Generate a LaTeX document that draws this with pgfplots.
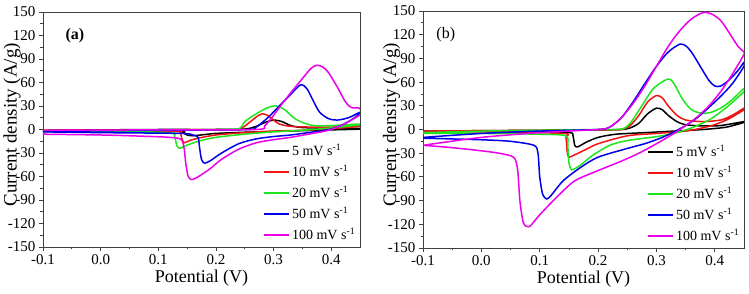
\documentclass[border=0pt]{standalone}
\usepackage{fontspec}
\setmainfont{Liberation Serif}
\usepackage{pgfplots}
\pgfplotsset{compat=1.18}
\definecolor{cR}{RGB}{240,20,20}
\definecolor{cG}{RGB}{30,230,30}
\definecolor{cB}{RGB}{0,0,235}
\definecolor{cM}{RGB}{235,0,235}
\pgfplotsset{
  cvaxis/.style={
    scale only axis,
    width=317pt, height=235pt,
    xmin=-0.1, xmax=0.45, ymin=-150, ymax=150,
    xtick={-0.1,0,0.1,0.2,0.3,0.4},
    ytick={-150,-120,-90,-60,-30,0,30,60,90,120,150},
    minor x tick num=1, minor y tick num=1,
    tick align=outside, tick pos=left,
    major tick length=4pt, minor tick length=2.5pt,
    axis line style={line width=0.8pt, black!75},
    every tick/.style={black!75, line width=0.8pt},
    /pgf/number format/assume math mode=true,
    xticklabel style={/pgf/number format/fixed,/pgf/number format/precision=1,/pgf/number format/fixed zerofill},
    yticklabel style={/pgf/number format/fixed},
    ticklabel style={font=\fontsize{15}{17}\selectfont},
    xlabel={Potential (V)},
    ylabel={Current density (A/g)},
    xlabel style={at={(axis description cs:0.5,-0.132)}, anchor=center, font=\fontsize{18}{20}\selectfont},
    ylabel style={at={(axis description cs:-0.0978,0.52)}, anchor=center, font=\fontsize{19}{21}\selectfont},
    legend style={at={(0.995,0.01)}, anchor=south east, draw=none, fill=none,
      font=\fontsize{14}{16}\selectfont, row sep=3.8pt, inner sep=1pt},
    legend cell align=left,
    legend image code/.code={\draw[#1,line width=1.8pt] (0pt,0pt) -- (25pt,0pt);},
    every axis plot/.append style={line width=1.5pt, smooth, tension=0.45},
  }
}
\begin{document}
\begin{tikzpicture}
\useasboundingbox (-43pt,-47pt) rectangle (706pt,247pt);
\begin{axis}[cvaxis, at={(0pt,0pt)}, anchor=south west]
\addplot[black] coordinates {(-0.1,-1) (0.0,-0.5) (0.1,0) (0.2,0) (0.25,0.5) (0.27,4) (0.285,9) (0.30,12) (0.315,10) (0.33,5) (0.35,2.5) (0.4,1.5) (0.45,1.5)
 (0.45,0.5) (0.4,-0.5) (0.35,-1.5) (0.3,-2.5) (0.25,-3.5) (0.2,-5) (0.18,-6.5) (0.16,-8) (0.15,-7) (0.143,-4) (0.135,-2.5) (0.0,-2) (-0.1,-2)};
\addlegendentry{5 mV s\textsuperscript{-1}}
\addplot[cR] coordinates {(-0.1,-1) (0.1,-0.5) (0.2,0) (0.24,0.5) (0.26,10) (0.27,16) (0.28,20) (0.29,18) (0.30,12) (0.31,7) (0.33,4) (0.37,3) (0.4,3) (0.45,5)
 (0.45,4) (0.4,1) (0.35,-1) (0.3,-2) (0.25,-4) (0.2,-7) (0.17,-11) (0.155,-14) (0.145,-17) (0.141,-12) (0.138,-4) (0.13,-2.5) (0.0,-2) (-0.1,-2)};
\addlegendentry{10 mV s\textsuperscript{-1}}
\addplot[cG] coordinates {(-0.1,-2) (0.1,-1) (0.2,0) (0.24,1) (0.25,10) (0.27,20) (0.29,28) (0.305,30) (0.32,25) (0.335,15) (0.35,9) (0.37,5) (0.4,5) (0.45,7)
 (0.45,6) (0.4,2) (0.35,-1) (0.3,-3) (0.25,-6) (0.2,-10) (0.17,-15) (0.15,-20) (0.137,-24) (0.132,-20) (0.128,-8) (0.12,-4) (0.0,-3) (-0.1,-3)};
\addlegendentry{20 mV s\textsuperscript{-1}}
\addplot[cB] coordinates {(-0.1,-2) (0.1,-1) (0.2,-0.5) (0.26,0) (0.27,3) (0.29,15) (0.31,30) (0.33,45) (0.347,57) (0.358,52) (0.37,35) (0.38,22) (0.395,14) (0.41,12) (0.43,15) (0.45,22)
 (0.45,20) (0.43,10) (0.41,3) (0.39,-1) (0.36,-4) (0.33,-7) (0.3,-9) (0.27,-12) (0.24,-18) (0.21,-30) (0.19,-40) (0.18,-43) (0.175,-38) (0.172,-25) (0.169,-10) (0.16,-7) (0.14,-5) (0.0,-4) (-0.1,-3)};
\addlegendentry{50 mV s\textsuperscript{-1}}
\addplot[cM] coordinates {(-0.1,-1) (0.1,-0.5) (0.27,0) (0.285,5) (0.30,18) (0.315,33) (0.33,47) (0.35,65) (0.365,78) (0.375,82) (0.385,80) (0.395,73) (0.41,55) (0.425,35) (0.435,28) (0.45,27)
 (0.45,19) (0.43,10) (0.41,3) (0.39,-2) (0.36,-6) (0.33,-10) (0.30,-13) (0.27,-17) (0.24,-25) (0.21,-38) (0.19,-50) (0.17,-60) (0.158,-64) (0.152,-60) (0.148,-45) (0.145,-25) (0.14,-13) (0.12,-10) (0.05,-8) (0.0,-7) (-0.1,-6)};
\addlegendentry{100 mV s\textsuperscript{-1}}
\node[anchor=west, font=\fontsize{16}{18}\selectfont\bfseries] at (axis description cs:0.06,0.898) {(a)};
\end{axis}
\begin{axis}[cvaxis, at={(380pt,-1pt)}, anchor=south west, width=321pt, height=237pt]
\addplot[black] coordinates {(-0.1,-2) (0.1,-1) (0.2,-0.5) (0.24,0) (0.255,2) (0.27,8) (0.285,20) (0.30,27) (0.31,25) (0.32,18) (0.335,10) (0.35,6) (0.38,4.5) (0.41,5) (0.45,10)
 (0.45,9) (0.42,3) (0.38,0) (0.33,-2) (0.28,-4) (0.23,-6) (0.2,-10) (0.18,-16) (0.165,-22) (0.16,-20) (0.157,-8) (0.152,-4) (0.1,-3) (-0.1,-2)};
\addlegendentry{5 mV s\textsuperscript{-1}}
\addplot[cR] coordinates {(-0.1,-2) (0.1,-1) (0.2,-0.5) (0.24,0) (0.255,5) (0.27,18) (0.285,35) (0.30,43) (0.31,40) (0.32,30) (0.335,18) (0.35,12) (0.38,10) (0.41,12) (0.43,18) (0.45,27)
 (0.45,25) (0.42,12) (0.39,4) (0.35,-2) (0.3,-5) (0.25,-8) (0.2,-18) (0.18,-25) (0.16,-32) (0.15,-35) (0.147,-28) (0.145,-10) (0.14,-5) (0.0,-3) (-0.1,-2)};
\addlegendentry{10 mV s\textsuperscript{-1}}
\addplot[cG] coordinates {(-0.1,-4) (0.0,-2) (0.1,-1) (0.2,0) (0.24,0.5) (0.255,8) (0.275,30) (0.295,52) (0.32,64) (0.33,58) (0.345,38) (0.36,25) (0.375,21) (0.39,21) (0.41,27) (0.43,38) (0.45,52)
 (0.45,48) (0.42,28) (0.39,12) (0.36,2) (0.33,-5) (0.3,-9) (0.25,-14) (0.22,-20) (0.19,-33) (0.17,-45) (0.155,-51) (0.15,-42) (0.148,-20) (0.145,-8) (0.1,-6) (0.0,-5) (-0.1,-5)};
\addlegendentry{20 mV s\textsuperscript{-1}}
\addplot[cB] coordinates {(-0.1,-10) (0.0,-5) (0.1,-2) (0.2,0) (0.22,3) (0.24,15) (0.26,35) (0.28,58) (0.30,80) (0.32,98) (0.34,108) (0.35,106) (0.36,98) (0.375,80) (0.39,62) (0.40,55) (0.41,55) (0.425,63) (0.44,75) (0.45,85)
 (0.45,80) (0.43,58) (0.41,42) (0.39,28) (0.37,15) (0.35,5) (0.33,-3) (0.31,-10) (0.28,-18) (0.25,-24) (0.2,-35) (0.17,-48) (0.14,-65) (0.12,-83) (0.112,-88) (0.105,-82) (0.1,-60) (0.097,-30) (0.09,-20) (0.05,-15) (0.0,-13) (-0.1,-11)};
\addlegendentry{50 mV s\textsuperscript{-1}}
\addplot[cM] coordinates {(-0.1,-20) (0.0,-10) (0.1,-4) (0.2,0) (0.22,3) (0.24,15) (0.26,33) (0.28,55) (0.30,80) (0.32,105) (0.34,125) (0.36,140) (0.38,148) (0.395,146) (0.41,138) (0.425,122) (0.44,105) (0.45,98)
 (0.45,95) (0.43,70) (0.41,48) (0.39,30) (0.37,16) (0.35,5) (0.33,-5) (0.3,-18) (0.27,-30) (0.24,-40) (0.2,-52) (0.16,-65) (0.13,-85) (0.1,-108) (0.082,-123) (0.072,-118) (0.066,-90) (0.062,-50) (0.055,-35) (0.03,-30) (0.0,-27) (-0.05,-23) (-0.1,-20)};
\addlegendentry{100 mV s\textsuperscript{-1}}
\node[anchor=west, font=\fontsize{16}{18}\selectfont] at (axis description cs:0.031,0.9) {(b)};
\end{axis}
\end{tikzpicture}
\end{document}
